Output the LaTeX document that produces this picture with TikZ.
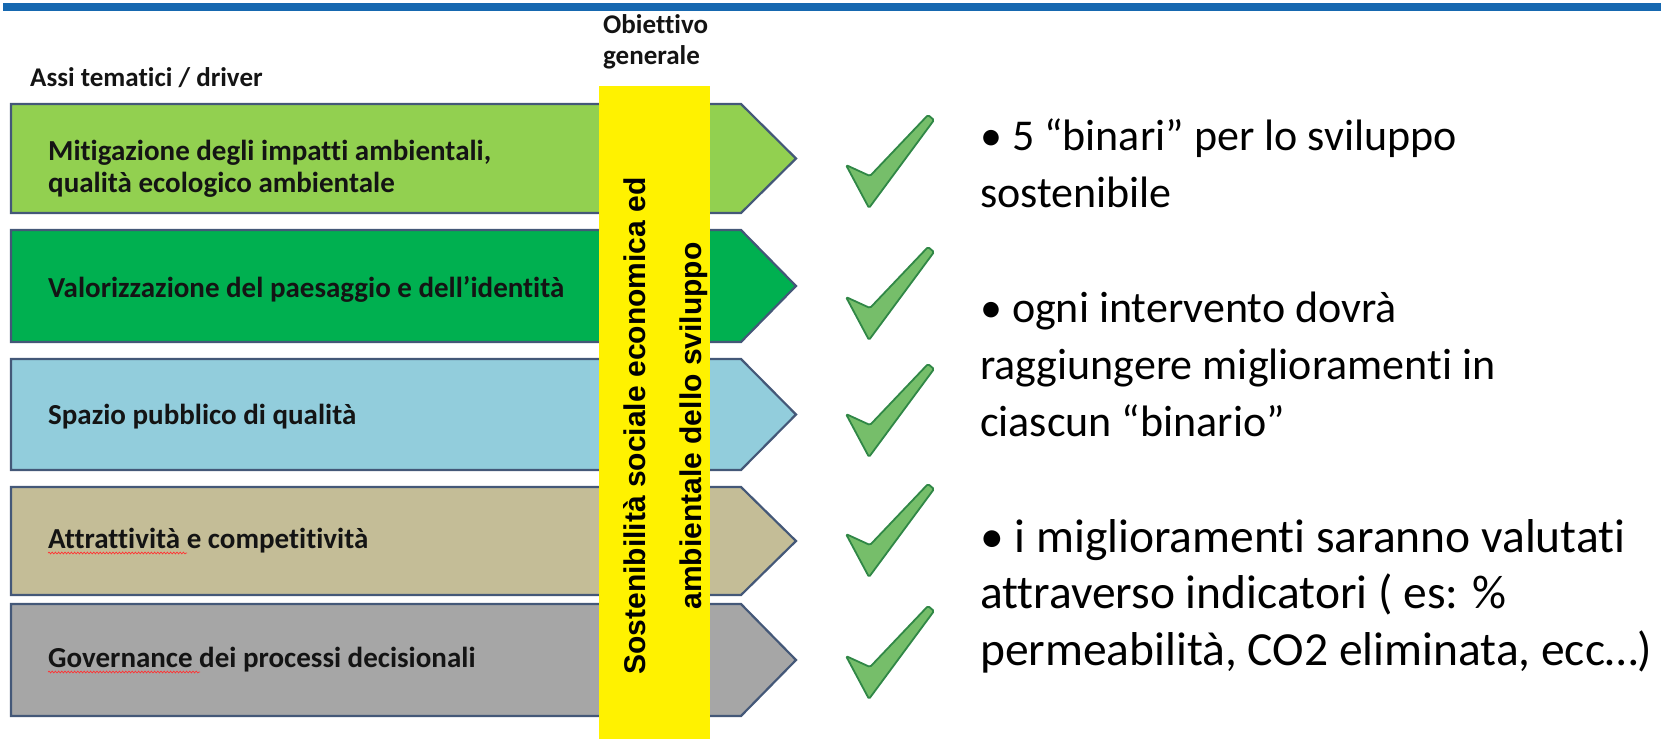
\documentclass[tikz,border=0pt]{standalone}
\usepackage{fontspec}
\setmainfont{Carlito}[Ligatures=CommonOff]
\newfontfamily\arialfont{Liberation Sans}
\usetikzlibrary{decorations.pathmorphing}
\definecolor{topblue}{RGB}{22,104,176}
\definecolor{edgecol}{RGB}{68,88,120}
\definecolor{cA}{RGB}{146,208,80}
\definecolor{cB}{RGB}{0,176,80}
\definecolor{cC}{RGB}{146,205,220}
\definecolor{cD}{RGB}{196,189,151}
\definecolor{cE}{RGB}{166,166,166}
\definecolor{chkfill}{RGB}{118,190,106}
\definecolor{chkedge}{RGB}{48,135,70}
\definecolor{txt}{RGB}{20,20,20}
\begin{document}
\begin{tikzpicture}[x=1bp,y=-1bp,
  drvshape/.style={draw=edgecol, line width=2.2bp, line join=miter},
  lab/.style={inner sep=0pt, anchor=base west, text=txt, font=\fontsize{29bp}{32bp}\selectfont\bfseries},
  head/.style={inner sep=0pt, anchor=base west, text=txt, font=\fontsize{27bp}{31bp}\selectfont\bfseries},
  bartext/.style={inner sep=0pt, anchor=base, rotate=90, text=black, font=\arialfont\fontsize{30bp}{34bp}\selectfont\bfseries},
  rtext/.style={inner sep=0pt, anchor=base west, text=black, font=\fontsize{44bp}{52bp}\selectfont},
  rtextb/.style={rtext, font=\fontsize{47.5bp}{52bp}\selectfont},
  chk/.style={draw=chkedge, fill=chkfill, line width=1.8bp, line join=round, rounded corners=1.5bp},
  squig/.style={draw=red!80!white, line width=0.7bp, decorate, decoration={snake, amplitude=0.9bp, segment length=3.2bp}},
  check/.pic={\path[chk] (-24,-11) -- (0,0) -- (58,-61) -- (64,-56) -- (-1,32) -- cycle;}
]
\useasboundingbox (0,0) rectangle (1661,739);
% top rule
\fill[topblue] (3,3.5) rectangle (1661,11.5);
% driver arrows
\foreach \t/\b/\c in {104/213/cA, 230/342/cB, 359/470/cC, 487/595/cD, 604/716/cE}{
  \path[drvshape, fill=\c] (11,\t) -- (741,\t) -- (796,{(\t+\b)/2}) -- (741,\b) -- (11,\b) -- cycle;
}
% yellow bar
\fill[yellow] (599,86) rectangle (710,739);
% headers
\node[head] (hA) at (30,86) {Assi tematici / driver};
\node[head] (hB) at (603,34) {Obiettivo};
\node[head] (hC) at (603,65) {generale};
% labels
\node[lab] (l1a) at (48,160) {Mitigazione degli impatti ambientali,};
\node[lab] (l1b) at (48,192) {qualità ecologico ambientale};
\node[lab] (l2) at (48,297) {Valorizzazione del paesaggio e dell’identità};
\node[lab] (l3) at (48,424) {Spazio pubblico di qualità};
\node[lab] (l4) at (48,548) {Attrattività e competitività};
\node[lab] (l5) at (48,667) {Governance dei processi decisionali};
\draw[squig] (48,553) -- (187,553);
\draw[squig] (48,672) -- (200,672);
% bar text
\node[bartext] (o1) at (645,426) {Sostenibilità sociale economica ed};
\node[bartext] (o2) at (701,426) {ambientale dello sviluppo};
% checks
\pic (k1) at (870,176) {check};
\pic (k2) at (870,308) {check};
\pic (k3) at (870,425) {check};
\pic (k4) at (870,545) {check};
\pic (k5) at (870,667) {check};
% right text
\node[rtext] (r1) at (980,150) {• 5 “binari” per lo sviluppo};
\node[rtext] (r2) at (980,207) {sostenibile};
\node[rtext] (r3) at (980,322) {• ogni intervento dovrà};
\node[rtext] (r4) at (980,379) {raggiungere miglioramenti in};
\node[rtext] (r5) at (980,436) {ciascun “binario”};
\node[rtextb] (r6) at (980,552) {• i miglioramenti saranno valutati};
\node[rtextb] (r7) at (980,608) {attraverso indicatori ( es: \%};
\node[rtextb] (r8) at (980,665) {permeabilità, CO2 eliminata, ecc…)};
\end{tikzpicture}
\end{document}
